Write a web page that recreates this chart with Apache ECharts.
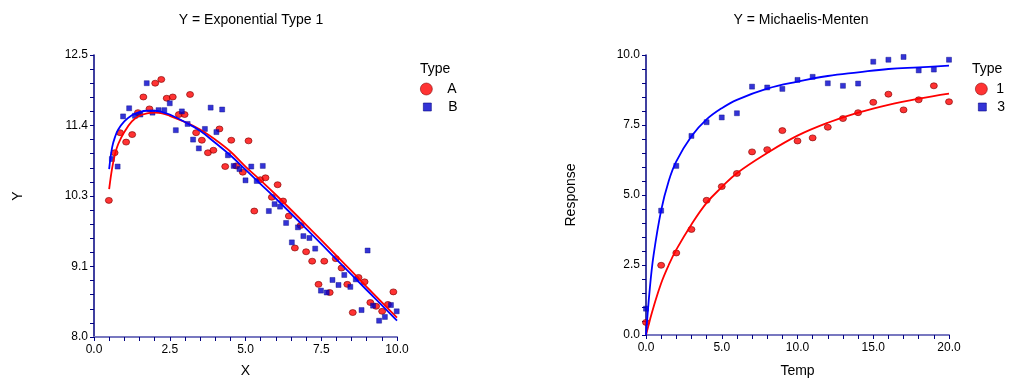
<!DOCTYPE html>
<html>
<head>
<meta charset="utf-8">
<script src="https://cdn.jsdelivr.net/npm/echarts@6/dist/echarts.min.js"></script>
<style>
  html, body { margin: 0; padding: 0; background: #fff; }
  #chart { width: 1010px; height: 383px; }
</style>
</head>
<body>
<div id="chart"></div>
<script>
// left panel: Y = Exponential Type 1 (x, y)
var expAX = [0.49, 0.68, 0.86, 1.06, 1.26, 1.45, 1.63, 1.83, 2.02, 2.22, 2.40, 2.60, 2.80, 2.99, 3.17, 3.37, 3.56, 3.76, 3.94, 4.14,
  4.33, 4.53, 4.69, 4.91, 5.10, 5.29, 5.49, 5.66, 5.87, 6.06, 6.24, 6.43, 6.63, 6.82, 7.00, 7.20, 7.41, 7.60, 7.78, 7.98,
  8.17, 8.36, 8.54, 8.73, 8.93, 9.12, 9.31, 9.51, 9.70, 9.88];
var expAY = [10.18, 10.94, 11.26, 11.11, 11.23, 11.58, 11.83, 11.64, 12.05, 12.11, 11.81, 11.83, 11.55, 11.55, 11.87, 11.26, 11.14, 10.94, 10.98, 11.32,
  10.72, 11.14, 10.73, 10.63, 11.13, 10.01, 10.51, 10.54, 10.23, 10.43, 10.17, 9.93, 9.42, 9.78, 9.36, 9.21, 8.84, 9.21, 8.71, 9.25,
  9.10, 8.84, 8.39, 8.95, 8.88, 8.55, 8.49, 8.41, 8.52, 8.72];
var expBX = [0.59, 0.78, 0.96, 1.16, 1.35, 1.53, 1.74, 1.93, 2.13, 2.32, 2.50, 2.70, 2.90, 3.09, 3.27, 3.46, 3.66, 3.85, 4.04, 4.23,
  4.42, 4.61, 4.80, 5.00, 5.19, 5.37, 5.57, 5.77, 5.96, 6.14, 6.34, 6.53, 6.73, 6.91, 7.11, 7.30, 7.49, 7.68, 7.87, 8.07,
  8.26, 8.46, 8.64, 8.83, 9.03, 9.21, 9.41, 9.60, 9.80, 9.99];
var expBY = [10.84, 10.72, 11.52, 11.65, 11.53, 11.55, 12.05, 11.58, 11.62, 11.62, 11.73, 11.30, 11.60, 11.40, 11.15, 11.01, 11.32, 11.66, 11.27, 11.63,
  10.90, 10.73, 10.68, 10.50, 10.72, 10.49, 10.73, 10.01, 10.12, 10.08, 9.82, 9.51, 9.75, 9.61, 9.58, 9.41, 8.74, 8.71, 8.91, 8.83,
  8.99, 8.80, 8.92, 8.43, 9.38, 8.50, 8.26, 8.32, 8.51, 8.41];
// fitted curves, read at these x
var expFitX = [0.5, 0.6, 0.7, 0.8, 1.0, 1.25, 1.5, 1.75, 2.0, 2.25, 2.5, 3.0, 3.5, 4.0, 4.5, 5.0, 5.5, 6.0, 7.0, 8.0, 9.0, 10.0];
var expFitA = [10.36, 10.70, 10.93, 11.08, 11.27, 11.44, 11.53, 11.57, 11.58, 11.57, 11.53, 11.43, 11.31, 11.15, 10.96, 10.72, 10.50, 10.27, 9.79, 9.30, 8.80, 8.31];
var expFitB = [10.68, 11.03, 11.20, 11.31, 11.44, 11.54, 11.59, 11.61, 11.61, 11.59, 11.55, 11.43, 11.29, 11.10, 10.90, 10.67, 10.44, 10.21, 9.73, 9.24, 8.75, 8.26];

// right panel: Y = Michaelis-Menten
var temps = [0, 1, 2, 3, 4, 5, 6, 7, 8, 9, 10, 11, 12, 13, 14, 15, 16, 17, 18, 19, 20];
var resp1 = [0.45, 2.49, 2.93, 3.77, 4.81, 5.30, 5.77, 6.54, 6.62, 7.30, 6.93, 7.04, 7.42, 7.73, 7.94, 8.31, 8.60, 8.04, 8.40, 8.90, 8.33];
var resp3 = [0.94, 4.44, 6.04, 7.11, 7.60, 7.77, 7.92, 8.87, 8.84, 8.79, 9.11, 9.22, 8.99, 8.90, 8.98, 9.76, 9.83, 9.93, 9.45, 9.48, 9.83];
var mmFitX = [0, 0.25, 0.5, 1, 1.5, 2, 3, 4, 5, 6, 8, 10, 12, 14, 16, 18, 20];
var mmFit1 = [0, 0.52, 1.0, 1.85, 2.5, 3.05, 3.95, 4.72, 5.28, 5.78, 6.5, 7.12, 7.58, 7.94, 8.22, 8.44, 8.62];
var mmFit3 = [0, 1.65, 2.85, 4.45, 5.5, 6.2, 7.1, 7.7, 8.1, 8.4, 8.8, 9.05, 9.25, 9.38, 9.5, 9.56, 9.62];

var FONT = 'Liberation Sans, Arial, sans-serif';
var NAVY = '#000080';

function zip(xs, ys) {
  return xs.map(function (x, i) { return [x, ys[i]]; });
}

function axis(gridIndex, min, max, interval, name, gap, isX) {
  return {
    type: 'value', gridIndex: gridIndex, min: min, max: max, interval: interval,
    name: name, nameLocation: 'middle', nameGap: gap,
    nameTextStyle: { color: '#000', fontFamily: FONT, fontSize: 14 },
    axisLine: { show: true, lineStyle: { color: isX ? '#7878C0' : NAVY, width: isX ? 2 : 1.5 } },
    axisTick: { show: true, length: 4, lineStyle: { color: NAVY, width: 1 } },
    minorTick: { show: true, splitNumber: 5, length: 4, lineStyle: { color: NAVY, width: 1 } },
    splitLine: { show: false },
    axisLabel: {
      color: '#000', fontFamily: FONT, fontSize: 12, margin: isX ? 7 : 6,
      formatter: function (v) { return v.toFixed(1); }
    }
  };
}

function dots(name, xi, data, isCircle) {
  return {
    name: name, type: 'scatter', xAxisIndex: xi, yAxisIndex: xi, data: data,
    symbol: isCircle ? 'circle' : 'rect', symbolSize: isCircle ? [7, 6] : 5,
    itemStyle: isCircle ? { color: '#FF0000', borderColor: '#800000', borderWidth: 0.8 }
                        : { color: '#0000CC', borderColor: '#000080', borderWidth: 0.5 },
    emphasis: { disabled: true }
  };
}

function fit(xi, data, color) {
  return {
    type: 'line', xAxisIndex: xi, yAxisIndex: xi, data: data, showSymbol: false,
    smooth: 0.4,
    lineStyle: { color: color, width: 1.8 }, z: 3, silent: true
  };
}

function legendItem(left, top, name, icon, w, h, color, pad) {
  return {
    left: left, top: top, orient: 'vertical', selectedMode: false,
    itemWidth: w, itemHeight: h,
    data: [{ name: name, icon: icon, itemStyle: { color: color, borderColor: icon === 'circle' ? '#800000' : '#000080', borderWidth: 0.7 } }],
    textStyle: { color: '#000', fontFamily: FONT, fontSize: 14, padding: [0, 0, 0, pad] }
  };
}

var chart = echarts.init(document.getElementById('chart'));
chart.setOption({
  animation: false,
  title: [
    { text: 'Y = Exponential Type 1', left: 246, top: 8, textAlign: 'center',
      textStyle: { fontFamily: FONT, fontSize: 14, fontWeight: 'normal', color: '#000' } },
    { text: 'Y = Michaelis-Menten', left: 796, top: 8, textAlign: 'center',
      textStyle: { fontFamily: FONT, fontSize: 14, fontWeight: 'normal', color: '#000' } },
    { text: 'Type', left: 415, top: 57, textStyle: { fontFamily: FONT, fontSize: 14, fontWeight: 'normal', color: '#000' } },
    { text: 'Type', left: 967, top: 57, textStyle: { fontFamily: FONT, fontSize: 14, fontWeight: 'normal', color: '#000' } }
  ],
  legend: [
    legendItem(415, 77, 'A', 'circle', 14, 12, '#FF0000', 9),
    legendItem(418, 95, 'B', 'rect', 8, 8, '#0000CC', 12),
    legendItem(970, 77, '1', 'circle', 14, 12, '#FF0000', 3),
    legendItem(973, 95, '3', 'rect', 8, 8, '#0000CC', 6)
  ],
  grid: [
    { left: 94, top: 55, width: 303, height: 284 },
    { left: 646, top: 55, width: 303, height: 284 }
  ],
  xAxis: [
    axis(0, 0, 10, 2.5, 'X', 27, true),
    axis(1, 0, 20, 5, 'Temp', 29, true)
  ],
  yAxis: [
    axis(0, 8, 12.5, 1.125, 'Y', 69, false),
    axis(1, 0, 10, 2.5, 'Response', 68, false)
  ],
  series: [
    dots('A', 0, zip(expAX, expAY), true),
    dots('B', 0, zip(expBX, expBY), false),
    fit(0, zip(expFitX, expFitA), '#FF0000'),
    fit(0, zip(expFitX, expFitB), '#0000FF'),
    dots('1', 1, zip(temps, resp1), true),
    dots('3', 1, zip(temps, resp3), false),
    fit(1, zip(mmFitX, mmFit1), '#FF0000'),
    fit(1, zip(mmFitX, mmFit3), '#0000FF')
  ]
});
</script>
</body>
</html>
